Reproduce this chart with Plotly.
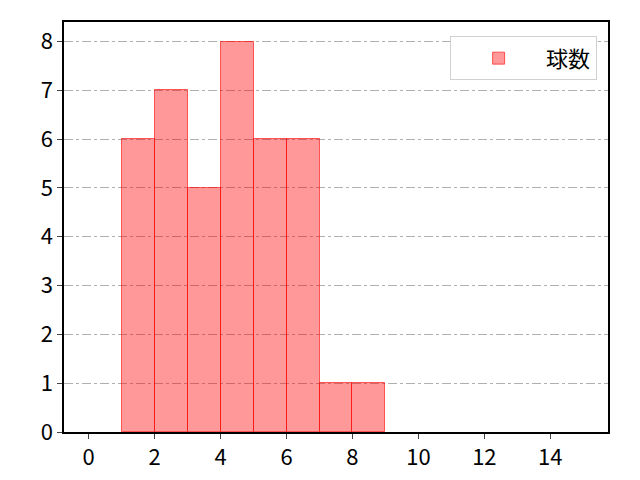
import plotly.graph_objects as go

# histogram bins (left edges) and counts
bin_left = [1, 2, 3, 4, 5, 6, 7, 8]
counts = [6, 7, 5, 8, 6, 6, 1, 1]
series_name = "球数"

x_ticks = [0, 2, 4, 6, 8, 10, 12, 14]
y_ticks = [0, 1, 2, 3, 4, 5, 6, 7, 8]

fig = go.Figure()
fig.add_trace(go.Bar(
    x=[b + 0.5 for b in bin_left],
    y=counts,
    width=1,
    name=series_name,
    marker=dict(color="rgba(255,0,0,0.4)",
                line=dict(color="rgba(255,0,0,0.6)", width=1)),
    showlegend=True,
))

tick_font = dict(family="Noto Sans CJK JP", size=22, color="black")

# page has an 8px body margin, so margins are offset by it
fig.update_layout(
    width=640, height=480,
    margin=dict(l=56, r=40, t=14, b=56),
    plot_bgcolor="white", paper_bgcolor="white",
    font=dict(family="Noto Sans CJK JP", size=22, color="black"),
    bargap=0,
    showlegend=True,
    legend=dict(x=0.98, y=0.965, xanchor="right", yanchor="top",
                bordercolor="#d0d0d0", borderwidth=1,
                font=dict(size=22), bgcolor="white", itemwidth=85),
    xaxis=dict(range=[-0.75, 15.75], tickvals=x_ticks, showgrid=False,
               showline=True, linecolor="black", linewidth=1.5, mirror=True,
               ticks="outside", ticklen=5, zeroline=False, tickfont=tick_font),
    yaxis=dict(range=[0, 8.4], tickvals=y_ticks, showgrid=True,
               gridcolor="#b0b0b0", griddash="dashdot", gridwidth=1,
               showline=True, linecolor="black", linewidth=1.5, mirror=True,
               ticks="outside", ticklen=5, zeroline=False, tickfont=tick_font),
)

fig.write_html("out.html")
